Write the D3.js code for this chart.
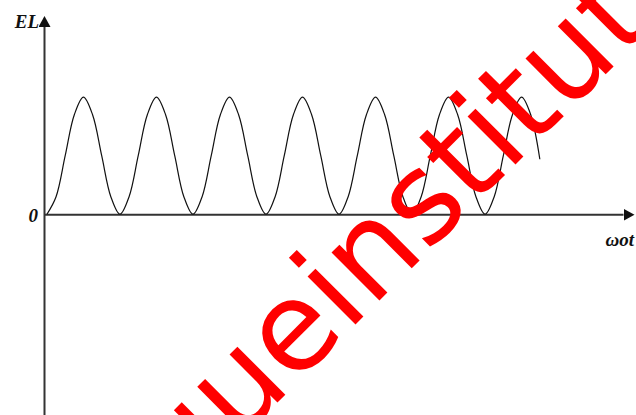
<!DOCTYPE html>
<html>
<head>
<meta charset="utf-8">
<script src="https://cdn.jsdelivr.net/npm/d3@7"></script>
<style>
  html, body { margin: 0; padding: 0; background: #fff; }
  svg { display: block; }
  .lbl { font-family: "Liberation Serif", "Times New Roman", serif; font-weight: bold; font-style: italic; font-size: 19px; fill: #111; }
</style>
</head>
<body>
<div id="chart"></div>
<script>
// phase angle wt (degrees) and EL
const omegaT = [
  0, 22.5, 45, 67.5, 90, 112.5, 135, 157.5,
  180, 202.5, 225, 247.5, 270, 292.5, 315, 337.5,
  360, 382.5, 405, 427.5, 450, 472.5, 495, 517.5,
  540, 562.5, 585, 607.5, 630, 652.5, 675, 697.5,
  720, 742.5, 765, 787.5, 810, 832.5, 855, 877.5,
  900, 922.5, 945, 967.5, 990, 1012.5, 1035, 1057.5,
  1080, 1102.5, 1125, 1147.5, 1170, 1192.5, 1215
];
const elValues = [
  0, 0.15, 0.5, 0.85, 1, 0.85, 0.5, 0.15,
  0, 0.15, 0.5, 0.85, 1, 0.85, 0.5, 0.15,
  0, 0.15, 0.5, 0.85, 1, 0.85, 0.5, 0.15,
  0, 0.15, 0.5, 0.85, 1, 0.85, 0.5, 0.15,
  0, 0.15, 0.5, 0.85, 1, 0.85, 0.5, 0.15,
  0, 0.15, 0.5, 0.85, 1, 0.85, 0.5, 0.15,
  0, 0.15, 0.5, 0.85, 1, 0.85, 0.47
];
const axisLabels = { y: 'EL', x: 'ωot', origin: '0' };
const watermark = 'queinstitut';

const W = 636, H = 415;

const svg = d3.select('#chart').append('svg')
  .attr('width', W)
  .attr('height', H);

// arrow heads for both axes
svg.append('defs').append('marker')
    .attr('id', 'arrow')
    .attr('viewBox', '0 0 11 12')
    .attr('refX', 0).attr('refY', 6)
    .attr('markerWidth', 11).attr('markerHeight', 12)
    .attr('markerUnits', 'userSpaceOnUse')
    .attr('orient', 'auto')
  .append('path')
    .attr('d', 'M0,0L11,6L0,12Z')
    .attr('fill', '#111');

const xScale = d3.scaleLinear().domain([-6, 1420]).range([44.5, 623]);
const yScale = d3.scaleLinear().domain([-1.72, 1.6]).range([415.5, 27]);

const xAxisG = svg.append('g')
  .attr('class', 'axis x-axis')
  .attr('transform', `translate(0,${yScale(0)})`)
  .call(d3.axisBottom(xScale).tickValues([]).tickSizeOuter(0));

const yAxisG = svg.append('g')
  .attr('class', 'axis y-axis')
  .attr('transform', `translate(${xScale(-6)},0)`)
  .call(d3.axisLeft(yScale).tickValues([]).tickSizeOuter(0));

svg.selectAll('.axis .domain')
  .attr('stroke', '#333')
  .attr('stroke-width', 2)
  .attr('marker-end', 'url(#arrow)');

// axis paths run from range start to end; y axis must point upwards
yAxisG.select('.domain').attr('d', `M0,${yScale.range()[0]}V${yScale.range()[1]}`);

const pts = omegaT.map((d, i) => ({ t: d, v: elValues[i] }));

svg.append('path')
  .datum(pts)
  .attr('fill', 'none')
  .attr('stroke', '#111')
  .attr('stroke-width', 1.2)
  .attr('d', d3.line()
    .x(d => xScale(d.t))
    .y(d => yScale(d.v))
    .curve(d3.curveCatmullRom.alpha(0.5)));

svg.append('text').attr('class', 'lbl')
  .attr('x', 39).attr('y', 28).attr('text-anchor', 'end')
  .text(axisLabels.y);

svg.append('text').attr('class', 'lbl')
  .attr('x', 38).attr('y', 222).attr('text-anchor', 'end')
  .text(axisLabels.origin);

svg.append('text').attr('class', 'lbl')
  .attr('x', 634).attr('y', 246).attr('text-anchor', 'end')
  .text(axisLabels.x);

svg.append('text')
  .attr('transform', 'translate(182,498) rotate(-45)')
  .attr('font-family', '"DejaVu Sans", sans-serif')
  .attr('font-size', 124)
  .attr('fill', '#ff0000')
  .text(watermark);
</script>
</body>
</html>
